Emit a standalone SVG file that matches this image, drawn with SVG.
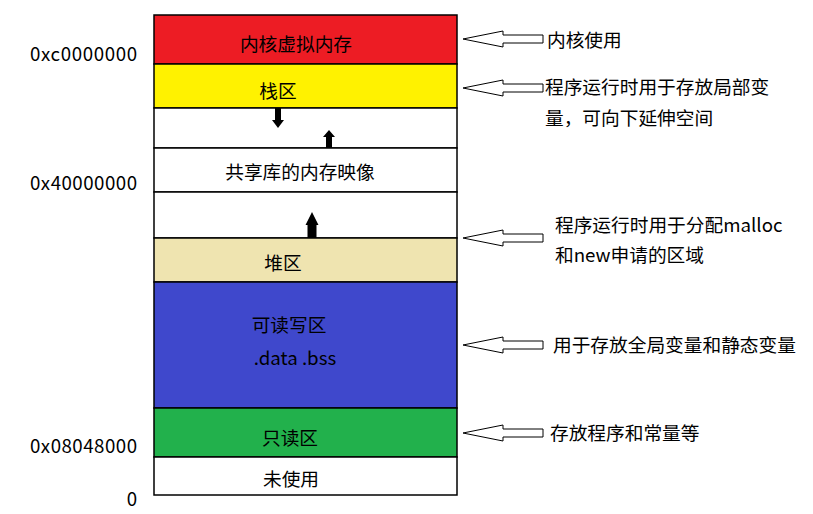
<svg xmlns="http://www.w3.org/2000/svg" width="813" height="514" viewBox="0 0 813 514">
<style>
.seg{stroke:#000;stroke-width:1.5}
.t{font-family:"Microsoft YaHei","Noto Sans CJK SC","Noto Sans",sans-serif;font-size:18.7px;fill:#000;dominant-baseline:central}
.m{text-anchor:middle}
.e{text-anchor:end}
.ha{fill:#fff;stroke:#000;stroke-width:1}
.sa{fill:#000;stroke:none}
</style>
<rect width="813" height="514" fill="#fff"/>
<g id="kernel"><rect class="seg" x="154" y="15" width="303" height="49" fill="#ED1C24"/><text class="t m" x="296" y="42.5">内核虚拟内存</text></g>
<g id="stack"><rect class="seg" x="154" y="64" width="303" height="44" fill="#FFF200"/><text class="t m" x="278" y="89.5">栈区</text></g>
<g id="gap1"><rect class="seg" x="154" y="108" width="303" height="40" fill="#fff"/></g>
<g id="shared"><rect class="seg" x="154" y="148" width="303" height="44" fill="#fff"/><text class="t m" x="300" y="170.5">共享库的内存映像</text></g>
<g id="gap2"><rect class="seg" x="154" y="192" width="303" height="46" fill="#fff"/></g>
<g id="heap"><rect class="seg" x="154" y="238" width="303" height="44" fill="#EFE4B0"/><text class="t m" x="283" y="261.5">堆区</text></g>
<g id="rw"><rect class="seg" x="154" y="282" width="303" height="126" fill="#3F48CC"/><text class="t m" x="289" y="323.5">可读写区</text><text class="t m" x="295" y="356.5">.data .bss</text></g>
<g id="ro"><rect class="seg" x="154" y="408" width="303" height="49" fill="#22B14C"/><text class="t m" x="290" y="436.5">只读区</text></g>
<g id="unused"><rect class="seg" x="154" y="457" width="303" height="38" fill="#fff"/><text class="t m" x="291" y="477.5">未使用</text></g>
<g id="addr"><text class="t e" x="137" y="52.5" textLength="107" lengthAdjust="spacing">0xc0000000</text><text class="t e" x="137" y="181.5" textLength="107" lengthAdjust="spacing">0x40000000</text><text class="t e" x="137" y="444.5" textLength="107" lengthAdjust="spacing">0x08048000</text><text class="t e" x="137" y="497.5">0</text></g>
<g id="connectors">
<polygon class="sa" points="275,108 281,108 281,120 284,120 278,128 272,120 275,120"/>
<polygon class="sa" points="326,148 332,148 332,137 335,137 329,130 323,137 326,137"/>
<polygon class="sa" points="307.5,238 316.5,238 316.5,225 318.5,225 312,212 305.5,225 307.5,225"/>
<polygon class="ha" points="463,39 503,31 503,35 543,35 543,43 503,43 503,47"/>
<polygon class="ha" points="463,88 503,80 503,84 543,84 543,92 503,92 503,96"/>
<polygon class="ha" points="463,238 503,230 503,234 543,234 543,242 503,242 503,246"/>
<polygon class="ha" points="463,345 503,337 503,341 543,341 543,349 503,349 503,353"/>
<polygon class="ha" points="463,433 503,425 503,429 543,429 543,437 503,437 503,441"/>
</g>
<g id="notes">
<text class="t" x="547" y="38.5">内核使用</text>
<text class="t" x="545" y="85.5">程序运行时用于存放局部变</text>
<text class="t" x="545" y="116.5">量，可向下延伸空间</text>
<text class="t" x="555" y="223.5">程序运行时用于分配malloc</text>
<text class="t" x="555" y="253.5">和new申请的区域</text>
<text class="t" x="553" y="343.5">用于存放全局变量和静态变量</text>
<text class="t" x="550" y="431.5">存放程序和常量等</text>
</g>
</svg>
